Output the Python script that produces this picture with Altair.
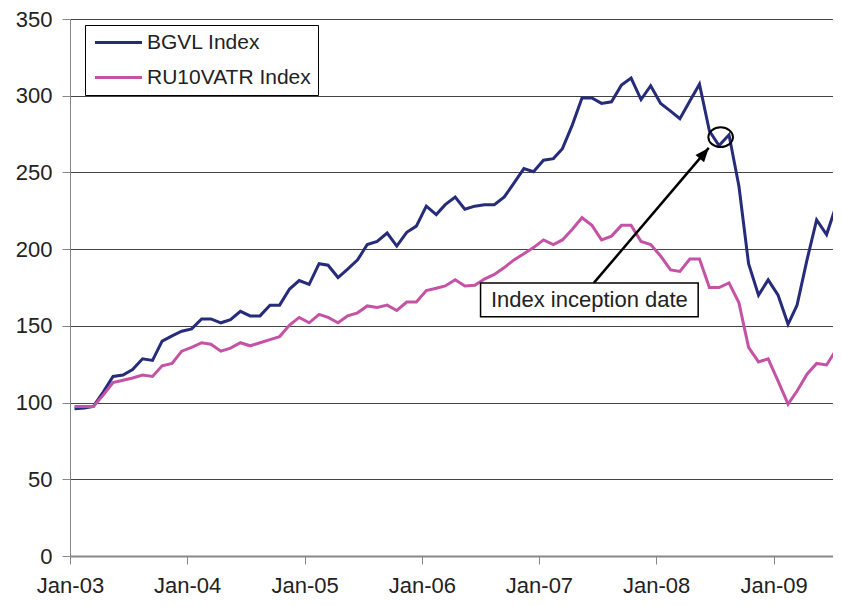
import altair as alt
import pandas as pd

FONT = "Liberation Sans"

# ---- data (monthly, mid-month, Jan-2003 .. Aug-2009) ----
months = [f"{2003 + i // 12}-{i % 12 + 1:02d}-15T00:00:00" for i in range(80)]

bgvl = [96, 96.5, 97.5, 107, 117, 118, 121.5, 128.5, 127.5, 140,
        143.5, 146.5, 148, 154.5, 154.5, 152, 154, 159.5, 156.5, 156.5,
        163.5, 163.5, 174, 179.5, 177, 190.5, 189.5, 181.5, 187, 193,
        203, 205, 210.5, 202, 211, 215, 228, 222.5, 229, 234,
        226, 228, 229, 229, 234, 243, 252.5, 250.5, 258, 259,
        265.5, 281, 298.5, 298.5, 295, 296, 307, 311.5, 297.5, 306.5,
        295, 290, 285, 296.5, 307.5, 277, 267.5, 274.5, 241, 190.5,
        170, 180, 170, 151, 163.5, 193, 219, 209.5, 228.5, 235]

ru10vatr = [97.5, 97.5, 97.5, 105, 113, 114.5, 116, 118, 117, 124,
            125.5, 133.5, 136, 139, 138, 133.5, 135.5, 139, 137, 139,
            141, 143, 150.5, 155.5, 152, 157.5, 155.5, 152, 156.5, 158.5,
            163, 162, 163.5, 160, 165.5, 165.5, 173, 174.5, 176, 180,
            176, 176.5, 180.5, 183.5, 188, 193, 197, 201, 206, 203,
            206, 213, 220.5, 215.5, 206, 208.5, 215.5, 215.5, 205, 203,
            195.5, 186.5, 185.5, 193.5, 193.5, 175, 175, 178, 165, 136,
            126.5, 128.5, 114, 99, 107.5, 118.5, 125.5, 124.5, 134.5, 141]

series_names = ["BGVL Index", "RU10VATR Index"]
series_colors = ["#262B7A", "#C453A6"]

y_ticks = [0, 50, 100, 150, 200, 250, 300, 350]
x_tick_years = [2003, 2004, 2005, 2006, 2007, 2008, 2009]

# annotation (data space)
note_text = ["Index inception date"]
note_center = ["2007-06-07T00:00:00"]
note_center_val = [167]
note_box_x = ["2006-07-03T00:00:00"]
note_box_x2 = ["2008-05-11T00:00:00"]
note_box_y = [156]
note_box_y2 = [178]
arrow_from = ["2007-06-21T00:00:00"]
arrow_from_val = [178]
arrow_to = ["2008-06-13T00:00:00"]
arrow_to_val = [266]
circle_at = ["2008-07-20T00:00:00"]
circle_val = [273]

df = pd.DataFrame({
    "date": months * 2,
    "value": bgvl + ru10vatr,
    "series": [series_names[0]] * len(months) + [series_names[1]] * len(months),
})

note_df = pd.DataFrame({
    "date": note_center, "value": note_center_val, "text": note_text,
    "bx": note_box_x, "bx2": note_box_x2, "by": note_box_y, "by2": note_box_y2,
})
arrow_df = pd.DataFrame({"date": arrow_from, "value": arrow_from_val,
                         "date2": arrow_to, "value2": arrow_to_val})
head_df = pd.DataFrame({"date": arrow_to, "value": arrow_to_val})
circle_df = pd.DataFrame({"date": circle_at, "value": circle_val})

x_scale = alt.Scale(domain=[alt.DateTime(year=2003, month=1, date=1),
                            alt.DateTime(year=2009, month=7, date=5)])
y_scale = alt.Scale(domain=[0, 350], nice=False)

x_axis = alt.Axis(
    values=[alt.DateTime(year=y, month=1, date=1) for y in x_tick_years],
    format="%b-%y", title=None, grid=False,
    labelFont=FONT, labelFontSize=22, labelColor="#222",
    tickSize=8, tickColor="#888", domainColor="#888", domainWidth=2,
    labelPadding=11, labelFlush=False, labelOverlap=False,
)
y_axis = alt.Axis(
    values=y_ticks, title=None, grid=True, gridColor="#444", gridWidth=1,
    labelFont=FONT, labelFontSize=22, labelColor="#222",
    tickSize=8, tickColor="#888", domainColor="#888", domainWidth=1,
    labelPadding=10,
)

lines = alt.Chart(df).mark_line(strokeWidth=3, clip=True).encode(
    x=alt.X("date:T", scale=x_scale, axis=x_axis),
    y=alt.Y("value:Q", scale=y_scale, axis=y_axis),
    color=alt.Color(
        "series:N",
        scale=alt.Scale(domain=series_names, range=series_colors),
        legend=alt.Legend(
            title=None, orient="none", legendX=15, legendY=6,
            symbolType="M-3.3,0H3.3", symbolSize=203, symbolStrokeWidth=3,
            symbolOffset=16,
            labelFont=FONT, labelFontSize=21, labelColor="#222",
            labelOffset=18, labelLimit=400, rowPadding=13, padding=7,
            strokeColor="black", fillColor="white",
        ),
    ),
)

arrow = alt.Chart(arrow_df).mark_rule(color="black", strokeWidth=2.5).encode(
    x="date:T", y="value:Q", x2="date2:T", y2="value2:Q")

head = alt.Chart(head_df).mark_point(
    shape="M0,0L-0.8,2L0.8,2Z", size=196, angle=40, filled=True,
    color="black", opacity=1).encode(x="date:T", y="value:Q")

circle = alt.Chart(circle_df).mark_point(
    shape="M-1,0A1,0.8,0,1,1,1,0A1,0.8,0,1,1,-1,0Z", size=605, filled=False,
    color="black", strokeWidth=2, opacity=1).encode(x="date:T", y="value:Q")

box = alt.Chart(note_df).mark_rect(fill="white", stroke="black", strokeWidth=1.5).encode(
    x="bx:T", x2="bx2:T", y="by:Q", y2="by2:Q")

label = alt.Chart(note_df).mark_text(font=FONT, fontSize=22, color="#222").encode(
    x="date:T", y="value:Q", text="text:N")

chart = alt.layer(lines, arrow, head, circle, box, label).properties(
    width=763, height=537,
    autosize=alt.AutoSizeParams(type="none"),
    padding={"left": 62, "top": 11, "right": 0, "bottom": 41},
).configure_view(stroke=None)

chart.save("out.html", embed_options={"renderer": "svg", "actions": False})
